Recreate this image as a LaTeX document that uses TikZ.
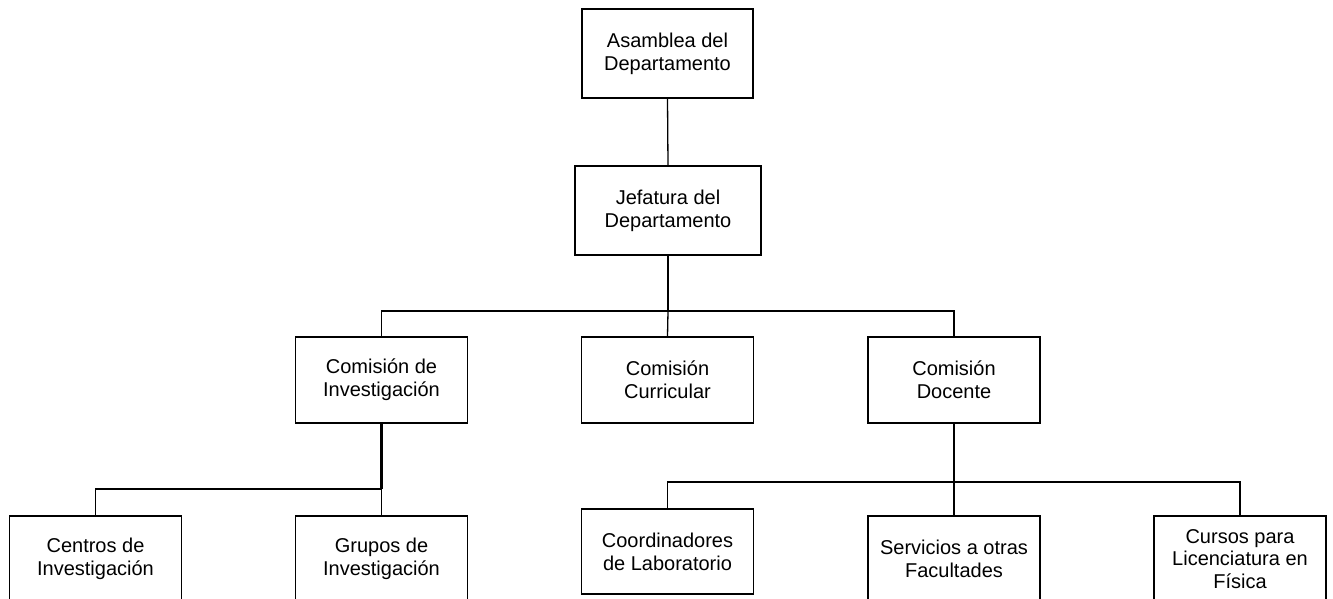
\documentclass[tikz,border=0pt]{standalone}
\usepackage{fontspec}
\setmainfont{Liberation Sans}
\begin{document}
\begin{tikzpicture}[x=1pt,y=-1pt,
  box/.style={draw, line width=1.3pt, rectangle, inner sep=0pt, align=center,
    font=\fontsize{20}{22.7}\selectfont, minimum width=172pt, minimum height=87pt},
  link/.style={line width=1.3pt},
  trunk/.style={line width=2.4pt}]
\useasboundingbox (0,0) rectangle (1333,599);
\clip (0,0) rectangle (1333,599);
% boxes
\node[box, minimum width=171pt, minimum height=89pt] (asam) at (667.5,53.5) {Asamblea del\\Departamento};
\node[box, minimum width=186pt, minimum height=89pt] (jef) at (668,210.5) {Jefatura del\\Departamento};
\node[box, minimum height=86pt] (cinv) at (381.5,380) {Comisión de\\Investigación};
\node[box, minimum height=86pt] (ccur) at (667.5,380) {Comisión\\Curricular};
\node[box, minimum height=86pt] (cdoc) at (954,380) {Comisión\\Docente};
\node[box, minimum height=86pt] (cent) at (95.5,559) {Centros de\\Investigación};
\node[box, minimum height=86pt] (grup) at (381.5,559) {Grupos de\\Investigación};
\node[box, minimum height=85pt] (coord) at (667.5,551.5) {Coordinadores\\de Laboratorio};
\node[box, minimum height=86pt] (serv) at (954,559) {Servicios a otras\\Facultades};
\node[box, minimum height=86pt] (curs) at (1240,559) {Cursos para\\Licenciatura en\\Física};
% bus points
\coordinate (b1) at (668,311);
\coordinate (b2) at (381.5,489);
\coordinate (b3) at (954,482);
% connectors
\draw[link] (asam.south) -- (jef.north);
\draw[trunk] (jef.south) -- (b1);
\draw[link] (b1) -- (ccur.north);
\draw[link] (cinv.north) |- (b1) -| (cdoc.north);
\draw[trunk] (cinv.south) -- (b2);
\draw[link] (b2) -- (grup.north);
\draw[link] (cent.north) |- (b2);
\draw[trunk] (cdoc.south) -- (b3);
\draw[link] (b3) -- (serv.north);
\draw[link] (coord.north) |- (b3) -| (curs.north);
\end{tikzpicture}
\end{document}
